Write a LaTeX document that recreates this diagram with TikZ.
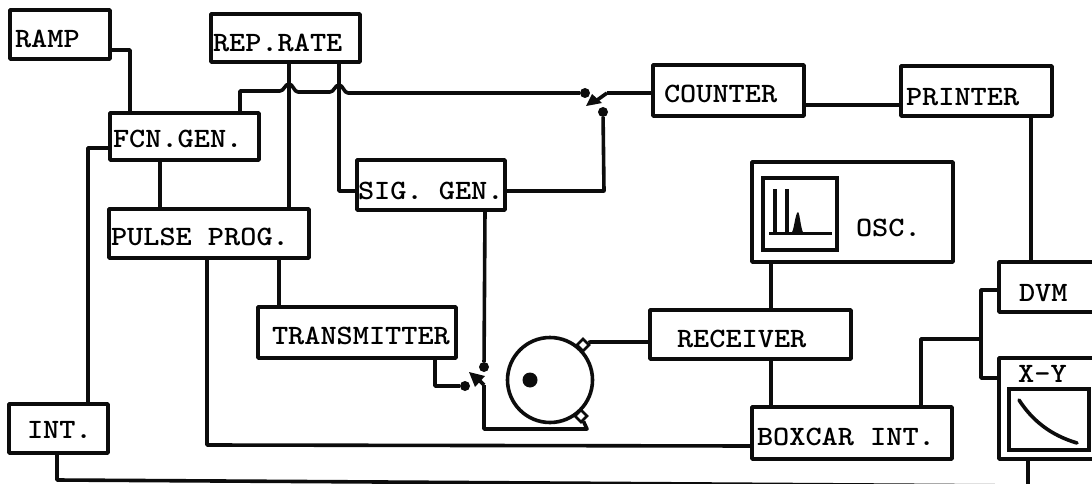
\documentclass[tikz,border=0pt]{standalone}
\usetikzlibrary{shapes.geometric}
\definecolor{ink}{RGB}{12,12,12}
\newcommand{\tw}[1]{\scalebox{1.1}[1]{\fontsize{28}{28}\selectfont\ttfamily\bfseries #1}}
% name x1 y1 x2 y2 text-offset text baseline-y
\newcommand{\bx}[8]{%
  \pgfmathsetmacro{\bw}{#4-#2}\pgfmathsetmacro{\bh}{#5-#3}\pgfmathsetmacro{\br}{(#3+#5)/2-#8}%
  \node[blk,minimum width=\bw pt,minimum height=\bh pt] (#1) at ({(#2+#4)/2},{(#3+#5)/2})
    {\raisebox{\br pt}[0pt][0pt]{\makebox[\bw pt][l]{\hspace{#6pt}\tw{#7}}}};}
\tikzset{
  blk/.style={draw=ink,line width=3.6pt,inner sep=0pt,outer sep=0pt,fill=white,line join=round},
  wire/.style={draw=ink,line width=3.6pt,line join=round},
  dotn/.style={circle,fill=ink,inner sep=0pt,minimum size=10pt},
  contact/.style={diamond,draw=ink,line width=2.6pt,fill=white,inner sep=0pt,minimum size=13pt}
}
\begin{document}
\begin{tikzpicture}[x=1pt,y=-1pt]
\useasboundingbox (0,0) rectangle (1092,484);
\fill[white] (0,0) rectangle (1092,484);
\clip (0,0) rectangle (1092,484);
\bx{ramp}{10}{10}{110}{59}{5}{RAMP}{48}
\bx{rep}{211}{14}{360}{62}{2}{REP.RATE}{52}
\bx{fcn}{110}{113}{259}{160}{3}{FCN.GEN.}{148}
\bx{pulse}{109}{209}{309}{258}{2}{PULSE PROG.}{245}
\bx{sig}{357}{160}{505}{210}{1}{SIG. GEN.}{199}
\bx{tx}{258}{307}{456}{358}{14}{TRANSMITTER}{344}
\bx{counter}{653}{65}{804}{116}{11}{COUNTER}{103}
\bx{printer}{901}{66}{1052}{116}{5}{PRINTER}{106}
\bx{osc}{752}{162}{953}{262}{104}{OSC.}{236}
\bx{dvm}{999}{262}{1120}{312}{20}{DVM}{301}
\bx{xy}{999}{358}{1120}{459}{0}{}{400}
\bx{recv}{650}{310}{851}{359}{27}{RECEIVER}{347}
\bx{boxcar}{752}{407}{952}{459}{5}{BOXCAR INT.}{445}
\bx{int}{9}{404}{108}{453}{18}{INT.}{438}
\node[inner sep=0pt,anchor=base west] (xylab) at (1018,382) {\tw{X-Y}};
% oscilloscope screen
\node[draw=ink,line width=3.6pt,minimum width=74pt,minimum height=72pt,inner sep=0pt] (screen) at (800,214) {};
\draw[line width=3pt,ink] (769,233) -- (832,233);
\draw[line width=3.6pt,ink] (775,233) -- (775,189) (787,233) -- (787,189);
\fill[ink] (791,233) .. controls (794,233) and (795,213) .. (798,212) .. controls (800,213) and (801,233) .. (804,233) -- cycle;
% X-Y screen
\node[draw=ink,line width=3.6pt,minimum width=80pt,minimum height=61pt,inner sep=0pt] (xyscreen) at (1049,419.5) {};
\draw[line width=3.6pt,ink,line cap=round] (1019,400) .. controls (1032,420) and (1050,435) .. (1077,443);
% vessel
\node[circle,draw=ink,line width=3.6pt,minimum size=85pt,inner sep=0pt] (vessel) at (550,380) {};
\node[circle,fill=ink,inner sep=0pt,minimum size=15pt] (sample) at (530,380) {};
\node[contact] (cTop) at (583,345) {};
\node[contact] (cBot) at (581,416) {};
% switch nodes
\node[dotn] (s1a) at (585,93) {};
\node[dotn] (s1b) at (603,112) {};
\coordinate (s1p) at (607,93);
\node[dotn] (s2a) at (465,386) {};
\node[dotn] (s2b) at (484,367) {};
\coordinate (s2p) at (484,385);
% switch arrows
\draw[wire] (s1p) -- (593,103);
\fill[ink] (586,106) -- (602,103) -- (592,94) -- cycle;
\draw[wire] (s2p) -- (476,377);
\fill[ink] (469,372) -- (485,376) -- (475,387) -- cycle;
% connectors
\draw[wire] (ramp.east |- 0,50) -- (130,50) -- (130,0 |- fcn.north);
\draw[wire] (289,0 |- rep.south) -- (289,0 |- pulse.north);
\draw[wire] (339,0 |- rep.south) -- (339,191) -- (sig.west |- 0,191);
\draw[wire] (240,0 |- fcn.north) -- (240,91) -- (280,91)
  .. controls (284,91) and (285,84) .. (289,84)
  .. controls (293,84) and (294,92) .. (298,92) -- (330,92)
  .. controls (334,92) and (335,85) .. (339,85)
  .. controls (343,85) and (344,93) .. (348,93) -- (s1a);
\draw[wire] (s1p) -- (counter.west |- s1p);
\draw[wire] (s1b) -- (604,191) -- (sig.east |- 0,191);
\draw[wire] (counter.east |- 0,105) -- (printer.west |- 0,105);
\draw[wire] (fcn.west |- 0,148) -- (88,148) -- (88,0 |- int.north);
\draw[wire] (160,0 |- fcn.south) -- (160,0 |- pulse.north);
\draw[wire] (207,0 |- pulse.south) -- (207,445) -- (boxcar.west |- 0,446);
\draw[wire] (279,0 |- pulse.south) -- (279,0 |- tx.north);
\draw[wire] (485,0 |- sig.south) -- (s2b);
\draw[wire] (435,0 |- tx.south) -- (435,386) -- (s2a);
\draw[wire] (s2p) -- (484,429) -- (587,429) -- (cBot);
\draw[wire] (cTop) -- (590,342) -- (recv.west |- 0,342);
\draw[wire] (771,0 |- osc.south) -- (771,0 |- recv.north);
\draw[wire] (771,0 |- recv.south) -- (771,0 |- boxcar.north);
\draw[wire] (921,0 |- boxcar.north) -- (921,339) -- (981,339);
\draw[wire] (dvm.west |- 0,290) -- (981,290) -- (981,378) -- (xy.west |- 0,378);
\draw[wire] (1031,0 |- printer.south) -- (1031,0 |- dvm.north);
\draw[wire] (57,0 |- int.south) -- (57,480) -- (1028,486) -- (1028,0 |- xy.south);
\end{tikzpicture}
\end{document}
